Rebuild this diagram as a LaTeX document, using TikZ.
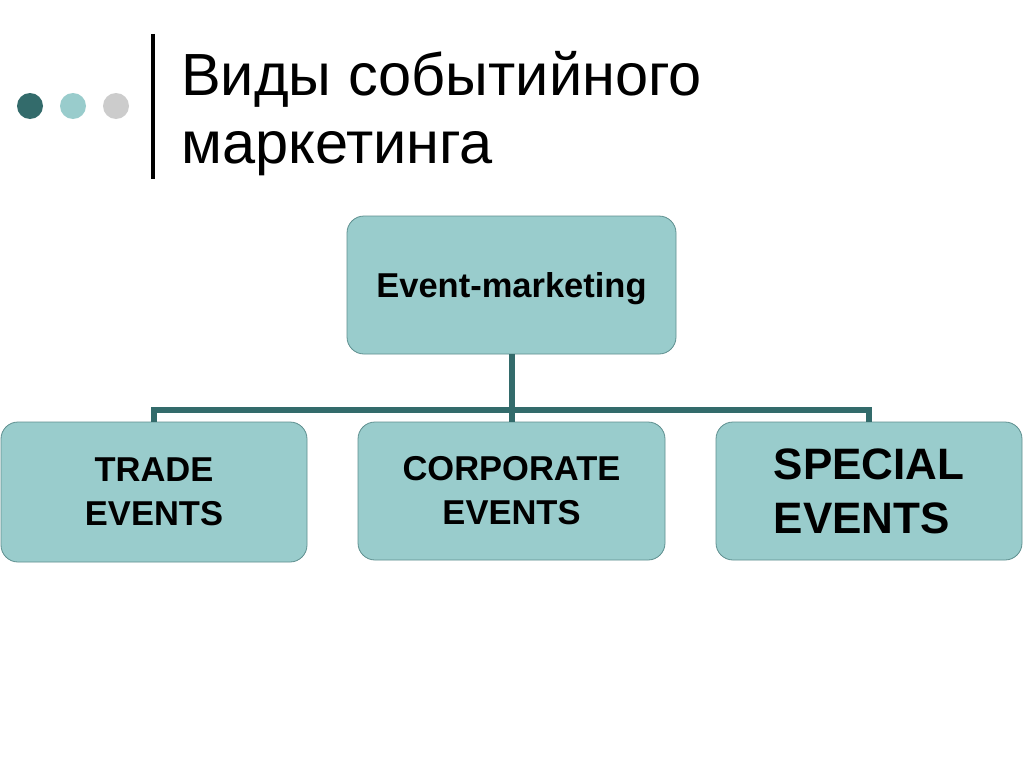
\documentclass[tikz,border=0pt]{standalone}
\usepackage{fontspec}
\setmainfont{Liberation Sans}
\usetikzlibrary{positioning}
\definecolor{tealdark}{HTML}{336B6B}
\definecolor{teallight}{HTML}{99CCCC}
\definecolor{dotgray}{HTML}{CCCCCC}
\definecolor{boxline}{HTML}{5E8F8F}
\tikzset{evbox/.style={draw=boxline, line width=0.8pt, fill=teallight,
  rounded corners=17pt, inner sep=0pt, align=center,
  font=\bfseries\fontsize{34.5}{44}\selectfont},
  link/.style={draw=tealdark, line width=6pt}}

\begin{document}
\begin{tikzpicture}[x=1pt, y=-1pt]
  \useasboundingbox[fill=white] (0,0) rectangle (1024,768);
  \fill[tealdark] (30,106) circle (13);   % dots
  \fill[teallight] (73,106) circle (13);
  \fill[dotgray] (116,106) circle (13);
  \draw[line width=4pt] (153,34) -- (153,179);
  \node[anchor=base west, inner sep=0pt, align=left,
    font=\fontsize{59.5}{68}\selectfont] (title) at (181,163)
    {Виды событийного\\маркетинга};

  \node[evbox, minimum width=329pt, minimum height=138pt, text depth=0pt]
    (top) at (511.5,285) {Event-marketing};
  \node[evbox, minimum width=306pt, minimum height=140pt] (trade) at (154,492)
    {TRADE\\EVENTS};
  \node[evbox, minimum width=307pt, minimum height=138pt] (corp) at (511.5,491)
    {CORPORATE\\EVENTS};
  \node[evbox, minimum width=306pt, minimum height=138pt, align=left,
    font=\bfseries\fontsize{44}{54}\selectfont] (special) at (869,491)
    {SPECIAL\\EVENTS};

  \coordinate (bus) at (512,410);
  \draw[link] (top.south) -- (top.south|-bus) -| (trade.north);  % left
  \draw[link] (top.south|-bus) -- (corp.north);                    % middle
  \draw[link] (top.south|-bus) -| (special.north);                 % right
\end{tikzpicture}
\end{document}
